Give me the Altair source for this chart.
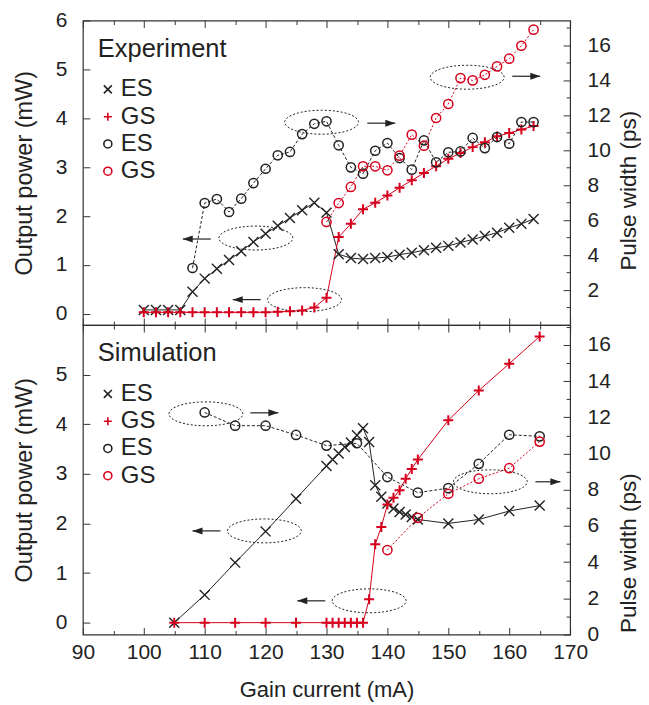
import altair as alt
import pandas as pd

BLACK = "#222222"
RED = "#d6001c"
TXT = "#222222"
FONT = "Liberation Sans"

# ---------------- Experiment (top panel) ----------------
EXP_CUR = list(range(100, 165, 2))
EXP_ES_POWER = [0.08, 0.08, 0.08, 0.08, 0.45, 0.72, 0.92, 1.10, 1.28, 1.47, 1.64,
                1.80, 1.96, 2.12, 2.27, 2.07, 1.22, 1.14, 1.12, 1.14, 1.16, 1.21,
                1.25, 1.30, 1.35, 1.39, 1.46, 1.52, 1.59, 1.66, 1.76, 1.84, 1.94]
EXP_GS_POWER = [0.03, 0.03, 0.03, 0.03, 0.03, 0.03, 0.03, 0.03, 0.03, 0.03, 0.03,
                0.04, 0.05, 0.07, 0.13, 0.33, 1.57, 1.84, 2.14, 2.27, 2.42, 2.58,
                2.73, 2.88, 3.02, 3.17, 3.29, 3.41, 3.51, 3.63, 3.70, 3.77, 3.84]
EXP_ES_PW_CUR = list(range(108, 165, 2))
EXP_ES_PW = [3.26, 6.97, 7.20, 6.46, 7.22, 8.11, 8.93, 9.70, 9.89, 10.91, 11.50,
             11.64, 10.27, 9.01, 8.65, 9.96, 10.40, 9.54, 8.88, 10.55, 9.30, 9.87,
             9.92, 10.69, 10.11, 10.74, 10.36, 11.60, 11.60]
EXP_GS_PW_CUR = list(range(130, 165, 2))
EXP_GS_PW = [5.89, 6.97, 7.89, 9.07, 9.07, 8.84, 9.68, 10.88, 10.25, 11.83, 12.63,
             14.11, 13.98, 14.30, 14.78, 15.22, 15.96, 16.88]

# ---------------- Simulation (bottom panel) ----------------
SIM_P_CUR = [105, 110, 115, 120, 125, 130, 131, 132, 133, 134, 135, 136, 137, 138,
             139, 140, 141, 142, 143, 144, 145, 150, 155, 160, 165]
SIM_ES_POWER = [0.0, 0.56, 1.21, 1.84, 2.50, 3.16, 3.29, 3.41, 3.54, 3.63, 3.78, 3.92,
                3.64, 2.77, 2.54, 2.40, 2.30, 2.23, 2.18, 2.13, 2.08, 2.00, 2.08, 2.25, 2.36]
SIM_GS_POWER = [0.0, 0.0, 0.0, 0.0, 0.0, 0.0, 0.0, 0.0, 0.0, 0.0, 0.0, 0.0,
                0.47, 1.58, 1.93, 2.38, 2.52, 2.67, 2.90, 3.10, 3.29, 4.08, 4.68, 5.22, 5.77]
SIM_ES_PW_CUR = [110, 115, 120, 125, 130, 135, 140, 145, 150, 155, 160, 165]
SIM_ES_PW = [12.27, 11.54, 11.54, 11.03, 10.44, 10.57, 8.70, 7.84, 8.09, 9.43, 11.04, 10.95]
SIM_GS_PW_CUR = [140, 145, 150, 155, 160, 165]
SIM_GS_PW = [4.67, 6.45, 7.78, 8.61, 9.19, 10.66]

# ---------------- annotations (gain current, output power) ----------------
EXP_ELL_X = [118.4, 126.4, 129.2, 153.1]
EXP_ELL_Y = [1.55, 0.29, 3.92, 4.84]
EXP_ARR_FROM = [111.0, 119.2, 136.7, 160.5]
EXP_ARR_TO = [106.4, 114.6, 141.3, 165.1]
EXP_ARR_Y = [1.53, 0.29, 3.90, 4.86]

SIM_ELL_X = [110.2, 119.8, 137.0, 156.9]
SIM_ELL_Y = [4.21, 1.85, 0.44, 2.84]
SIM_ARR_FROM = [117.5, 112.6, 129.8, 164.3]
SIM_ARR_TO = [122.1, 108.0, 125.2, 168.4]
SIM_ARR_Y = [4.23, 1.85, 0.44, 2.84]

# ---------------- ticks ----------------
X_TICKS = list(range(90, 171, 5))
P_TICKS_EXP = [i * 0.5 for i in range(13)]
P_TICKS_SIM = [i * 0.5 for i in range(12)]
W_TICKS_EXP = list(range(1, 18))
W_TICKS_SIM = list(range(0, 18))

SERIES = ["ES_P", "GS_P", "ES_W", "GS_W"]
X_PATH = "M -1 -1 L 1 1 M -1 1 L 1 -1"
PLUS_PATH = "M -1 0 L 1 0 M 0 -1 L 0 1"
ELLIPSE_PATH = ("M -1 0 C -1 -0.179 -0.552 -0.324 0 -0.324 C 0.552 -0.324 1 -0.179 1 0 "
                "C 1 0.179 0.552 0.324 0 0.324 C -0.552 0.324 -1 0.179 -1 0 Z")
HEAD_R = "M 0 0 L -1 -0.35 L -1 0.35 Z"
HEAD_L = "M 0 0 L 1 -0.35 L 1 0.35 Z"


def axis(**kw):
    base = dict(domain=False, ticks=False, tickSize=0, grid=True, gridColor="#333333",
                gridWidth=1, gridOpacity=1, labelFontSize=21, labelColor=TXT,
                labelFont=FONT, labelFlush=False, labelOverlap=False,
                titleFontSize=22, titleFontWeight="normal", titleColor=TXT, titleFont=FONT)
    base.update(kw)
    return alt.Axis(**base)


def panel(name, cur_p, es_p, gs_p, es_w_cur, es_w, gs_w_cur, gs_w,
          ell_x, ell_y, arr_from, arr_to, arr_y, H, p_dom, w_dom, p_ticks, w_ticks, show_x,
          w_title_y):
    dfp = pd.concat([
        pd.DataFrame({"current": cur_p, "value": es_p, "series": "ES_P"}),
        pd.DataFrame({"current": cur_p, "value": gs_p, "series": "GS_P"}),
    ], ignore_index=True)
    dfw = pd.concat([
        pd.DataFrame({"current": es_w_cur, "value": es_w, "series": "ES_W"}),
        pd.DataFrame({"current": gs_w_cur, "value": gs_w, "series": "GS_W"}),
    ], ignore_index=True)
    dfe = pd.DataFrame({"ex": ell_x, "ey": ell_y})
    dfa = pd.DataFrame({"x0": arr_from, "x1": arr_to, "ay": arr_y})
    dfa["dir"] = ["R" if b > a else "L" for a, b in zip(arr_from, arr_to)]

    xdash = {"condition": {"test": "datum.value % 10 === 0", "value": [7, H - 14, 7, 3000]},
             "value": [4, H - 8, 4, 3000]}
    if show_x:
        xaxis = axis(orient="bottom", values=X_TICKS, format="d",
                     labelExpr="datum.value % 10 === 0 ? datum.label : ''",
                     gridDash=xdash, labelPadding=7, title="Gain current (mA)",
                     titlePadding=17)
    else:
        xaxis = axis(orient="bottom", values=X_TICKS, labels=False, gridDash=xdash, title=None)

    pax = axis(orient="left", values=p_ticks, format="d",
               labelExpr="datum.value % 1 === 0 ? datum.label : ''",
               gridDash={"condition": {"test": "datum.value % 1 === 0", "value": [7, 3000]},
                         "value": [4, 3000]},
               labelPadding=16, title="Output power (mW)", titlePadding=19, titleFontSize=23.5)
    wax = axis(orient="right", values=w_ticks, format="d",
               labelExpr="datum.value % 2 === 0 ? datum.label : ''",
               gridDash={"condition": {"test": "datum.value % 2 === 0", "value": [7, 3000]},
                         "value": [4, 3000]},
               labelPadding=17, title="Pulse width (ps)", titlePadding=7, titleAngle=270,
               titleBaseline="top", titleFontSize=22.5, titleY=w_title_y)

    xs = alt.Scale(domain=[90, 170], nice=False, zero=False)
    ps = alt.Scale(domain=p_dom, nice=False, zero=False)
    ws = alt.Scale(domain=w_dom, nice=False, zero=False)

    def X(f):
        return alt.X(f, type="quantitative", scale=xs, axis=xaxis)

    def YP(f):
        return alt.Y(f, type="quantitative", scale=ps, axis=pax)

    def YW(f):
        return alt.Y(f, type="quantitative", scale=ws, axis=wax)

    legend = alt.Legend(title=name, orient="none", legendX=15, legendY=16.5, padding=0,
                        titleFontSize=25.5, titleFontWeight="normal", titleColor=TXT,
                        titleFont=FONT, titlePadding=15,
                        labelFontSize=24, labelColor=TXT, labelFont=FONT,
                        labelExpr="substring(datum.label, 0, 2)",
                        symbolSize=64, symbolStrokeWidth=1.6, symbolOffset=-2,
                        labelOffset=1, rowPadding=3.3)
    color = alt.Color("series:N", scale=alt.Scale(domain=SERIES, range=[BLACK, RED, BLACK, RED]),
                      legend=legend)
    shape = alt.Shape("series:N", scale=alt.Scale(domain=SERIES,
                                                   range=[X_PATH, PLUS_PATH, "circle", "circle"]),
                      legend=legend)
    sw = alt.condition("datum.series === 'GS_P'", alt.value(2.0), alt.value(1.4))

    line_es_p = alt.Chart(dfp).transform_filter("datum.series === 'ES_P'").mark_line(
        color=BLACK, strokeWidth=1).encode(x=X("current"), y=YP("value"))
    line_gs_p = alt.Chart(dfp).transform_filter("datum.series === 'GS_P'").mark_line(
        color=RED, strokeWidth=1).encode(x=X("current"), y=YP("value"))
    ell = alt.Chart(dfe).mark_point(shape=ELLIPSE_PATH, filled=False, size=5476, strokeWidth=1,
                                    strokeDash=[2, 2], color=BLACK, opacity=1).encode(
        x=X("ex"), y=YP("ey"))
    arr = alt.Chart(dfa).mark_rule(color=BLACK, strokeWidth=1.2).encode(
        x=X("x0"), x2="x1", y=YP("ay"))
    head_r = alt.Chart(dfa).transform_filter("datum.dir === 'R'").mark_point(
        shape=HEAD_R, filled=True, size=400, color=BLACK, opacity=1).encode(
        x=X("x1"), y=YP("ay"))
    head_l = alt.Chart(dfa).transform_filter("datum.dir === 'L'").mark_point(
        shape=HEAD_L, filled=True, size=400, color=BLACK, opacity=1).encode(
        x=X("x1"), y=YP("ay"))
    pts_p = alt.Chart(dfp).mark_point(filled=False, opacity=1, size=100).encode(
        x=X("current"), y=YP("value"), color=color, shape=shape, strokeWidth=sw)

    line_es_w = alt.Chart(dfw).transform_filter("datum.series === 'ES_W'").mark_line(
        color=BLACK, strokeWidth=1, strokeDash=[3, 2]).encode(x=X("current"), y=YW("value"))
    line_gs_w = alt.Chart(dfw).transform_filter("datum.series === 'GS_W'").mark_line(
        color=RED, strokeWidth=1, strokeDash=[2, 2]).encode(x=X("current"), y=YW("value"))
    pts_w = alt.Chart(dfw).mark_point(filled=False, opacity=1, size=85, strokeWidth=1.5).encode(
        x=X("current"), y=YW("value"), color=color, shape=shape)

    power = alt.layer(line_es_p, line_gs_p, ell, arr, head_r, head_l, pts_p)
    pulse = alt.layer(line_es_w, line_gs_w, pts_w)
    return alt.layer(power, pulse).resolve_scale(y="independent").properties(width=488, height=H)


top = panel("Experiment", EXP_CUR, EXP_ES_POWER, EXP_GS_POWER, EXP_ES_PW_CUR, EXP_ES_PW,
            EXP_GS_PW_CUR, EXP_GS_PW, EXP_ELL_X, EXP_ELL_Y, EXP_ARR_FROM, EXP_ARR_TO, EXP_ARR_Y,
            305, [-0.23, 6.0], [0, 17.4], P_TICKS_EXP, W_TICKS_EXP, False, 170)
bottom = panel("Simulation", SIM_P_CUR, SIM_ES_POWER, SIM_GS_POWER, SIM_ES_PW_CUR, SIM_ES_PW,
               SIM_GS_PW_CUR, SIM_GS_PW, SIM_ELL_X, SIM_ELL_Y, SIM_ARR_FROM, SIM_ARR_TO, SIM_ARR_Y,
               310, [-0.24, 6.0], [0, 17.1], P_TICKS_SIM, W_TICKS_SIM, True, 228)

chart = alt.vconcat(top, bottom, spacing=0, bounds="flush").resolve_scale(
    x="independent", color="independent", shape="independent"
).properties(
    padding={"left": 3, "top": 0, "right": 0, "bottom": 0}
).configure(font=FONT).configure_view(stroke="#333333", strokeWidth=1.2)

chart.save("out.html", embed_options={"renderer": "svg", "actions": False})
